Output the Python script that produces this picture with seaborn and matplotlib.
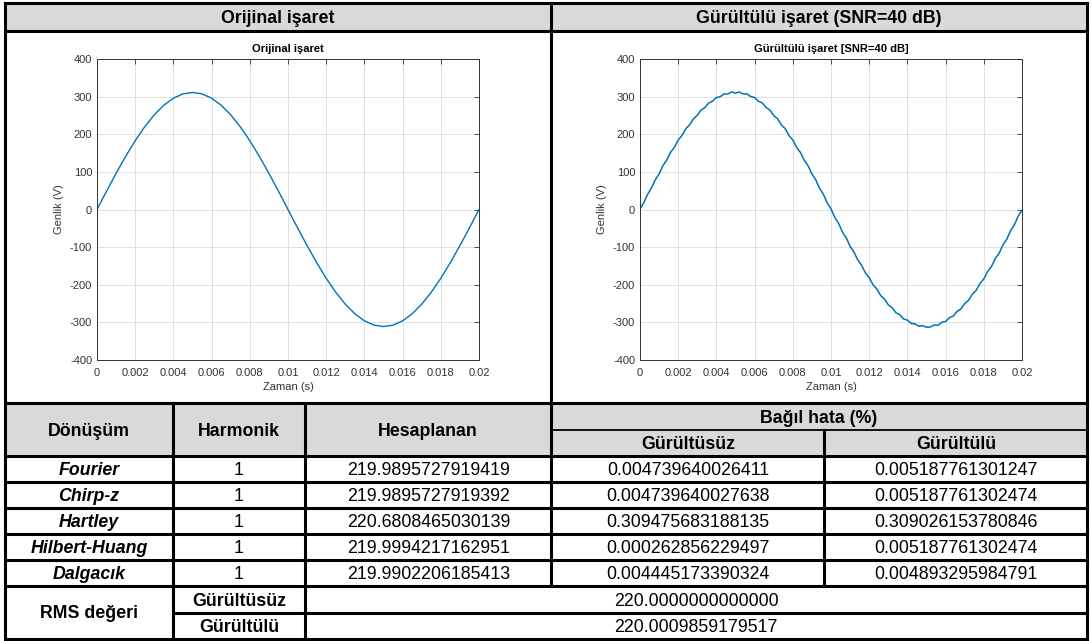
import numpy as np
import matplotlib
matplotlib.use("Agg")
import matplotlib.pyplot as plt
from matplotlib.lines import Line2D
from matplotlib.patches import Rectangle
import seaborn as sns

# ---- signal samples (V) over one 50 Hz period, 0 .. 0.02 s ----
clean_signal = [
    0.0, 48.7, 96.1, 141.2, 182.9, 220.0, 251.7, 277.2, 295.9, 307.3,
    311.1, 307.3, 295.9, 277.2, 251.7, 220.0, 182.9, 141.2, 96.1, 48.7,
    0.0, -48.7, -96.1, -141.2, -182.9, -220.0, -251.7, -277.2, -295.9, -307.3,
    -311.1, -307.3, -295.9, -277.2, -251.7, -220.0, -182.9, -141.2, -96.1, -48.7,
    0.0,
]

noisy_signal = [
    1.2, 18.4, 40.6, 57.1, 79.0, 94.8, 116.3, 131.2, 151.9, 165.1,
    184.5, 196.9, 214.8, 225.3, 241.2, 250.4, 264.5, 271.0, 283.2, 287.9,
    297.6, 299.8, 307.4, 307.0, 312.6, 309.5, 312.3, 307.1, 307.2, 300.1,
    297.9, 287.6, 283.4, 270.9, 264.6, 249.8, 241.5, 225.0, 214.9, 196.4,
    184.8, 164.9, 151.6, 130.7, 116.2, 94.5, 79.1, 56.5, 40.8, 17.7,
    1.6, -21.3, -37.2, -60.0, -75.6, -97.9, -112.8, -134.2, -148.1, -168.5,
    -181.1, -200.1, -211.2, -228.6, -237.9, -253.5, -260.9, -274.4, -279.7, -291.0,
    -294.1, -303.1, -303.8, -310.4, -308.7, -312.9, -312.3, -306.9, -307.4, -299.6,
    -297.7, -287.5, -283.3, -270.8, -264.5, -249.9, -241.5, -225.0, -214.8, -196.5,
    -184.7, -164.9, -151.7, -130.6, -116.3, -94.4, -79.2, -56.5, -40.8, -17.8,
    -1.5,
]

period_end = 0.02
x_tick_values = [0, 0.002, 0.004, 0.006, 0.008, 0.01, 0.012, 0.014, 0.016, 0.018, 0.02]
x_tick_labels = ["0", "0.002", "0.004", "0.006", "0.008", "0.01",
                 "0.012", "0.014", "0.016", "0.018", "0.02"]
y_tick_values = [-400, -300, -200, -100, 0, 100, 200, 300, 400]

# ---- results table ----
methods = ["Fourier", "Chirp-z", "Hartley", "Hilbert-Huang", "Dalgacık"]
harmonics = ["1", "1", "1", "1", "1"]
computed = ["219.9895727919419", "219.9895727919392", "220.6808465030139",
            "219.9994217162951", "219.9902206185413"]
err_clean = ["0.004739640026411", "0.004739640027638", "0.309475683188135",
             "0.000262856229497", "0.004445173390324"]
err_noisy = ["0.005187761301247", "0.005187761302474", "0.309026153780846",
             "0.005187761302474", "0.004893295984791"]
rms_labels = ["Gürültüsüz", "Gürültülü"]
rms_values = ["220.0000000000000", "220.0009859179517"]

panel_titles = ["Orijinal işaret", "Gürültülü işaret (SNR=40 dB)"]
axes_titles = ["Orijinal işaret", "Gürültülü işaret [SNR=40 dB]"]

sns.set_style("white")
plt.rcParams["font.family"] = ["Liberation Sans", "DejaVu Sans"]
plt.rcParams["axes.unicode_minus"] = False

W, H = 1091, 641
fig = plt.figure(figsize=(W / 100, H / 100), dpi=100)

# overlay in pixel coordinates for the table grid
grid_ax = fig.add_axes([0, 0, 1, 1], zorder=0)
grid_ax.set_xlim(0, W)
grid_ax.set_ylim(H, 0)
grid_ax.axis("off")

GRAY = "#d9d9d9"
grid_ax.add_patch(Rectangle((5, 3), 1082, 28, color=GRAY, lw=0))
grid_ax.add_patch(Rectangle((5, 403), 1082, 53, color=GRAY, lw=0))

THICK = 2.2
def hline(y, x0=5, x1=1087, lw=THICK):
    grid_ax.add_line(Line2D([x0, x1], [y, y], color="black", lw=lw,
                            solid_capstyle="projecting"))

def vline(x, y0=3, y1=639, lw=THICK):
    grid_ax.add_line(Line2D([x, x], [y0, y1], color="black", lw=lw,
                            solid_capstyle="projecting"))

row_edges = [456, 482, 508, 534, 560, 586]
for y in [3, 31, 403, 639] + row_edges:
    hline(y)
hline(430, 551, 1087, lw=1.3)
hline(613, 173, 1087)
vline(5)
vline(1087)
vline(551, 3, 586)
vline(173, 403, 639)
vline(305, 403, 639)
vline(824, 430, 586)

FS = 12.8
CAP_HALF = 0.358 * FS * 100 / 72  # half cap height in pixels

def put(x, y, s, weight="normal", style="normal", size=FS):
    # y is the visual middle of the capitals
    grid_ax.text(x, y + CAP_HALF, s, ha="center", va="baseline", fontsize=size,
                 fontweight=weight, fontstyle=style, color="black")

put(278, 17, panel_titles[0], weight="bold")
put(819, 17, panel_titles[1], weight="bold")

put(89, 430, "Dönüşüm", weight="bold")
put(239, 430, "Harmonik", weight="bold")
put(428, 430, "Hesaplanan", weight="bold")
put(819, 417, "Bağıl hata (%)", weight="bold")
put(688, 443, "Gürültüsüz", weight="bold")
put(956, 443, "Gürültülü", weight="bold")

for i, name in enumerate(methods):
    yc = (row_edges[i] + row_edges[i + 1]) / 2
    put(89, yc, name, weight="bold", style="italic")
    put(239, yc, harmonics[i])
    put(429, yc, computed[i])
    put(688, yc, err_clean[i])
    put(956, yc, err_noisy[i])

put(89, 612, "RMS değeri", weight="bold")
put(239, 599.5, rms_labels[0], weight="bold")
put(239, 626, rms_labels[1], weight="bold")
put(696, 599.5, rms_values[0])
put(696, 626, rms_values[1])

# ---- the two signal plots ----
BLUE = "#0072bd"
AX_COL = "#333333"
SMALL = 8.0

def signal_axes(x0, series, title, lw):
    ax = fig.add_axes([x0 / W, 1 - 360 / H, 382 / W, 301 / H], zorder=2)
    t = np.linspace(0, period_end, len(series))
    sns.lineplot(x=t, y=series, ax=ax, color=BLUE, lw=lw)
    ax.set_xlim(0, period_end)
    ax.set_ylim(-400, 400)
    ax.set_xticks(x_tick_values)
    ax.set_xticklabels(x_tick_labels)
    ax.set_yticks(y_tick_values)
    ax.grid(True, color="#e0e0e0", lw=0.7)
    ax.set_axisbelow(True)
    ax.tick_params(direction="in", top=True, right=True, length=3.5,
                   width=0.6, colors=AX_COL, labelsize=SMALL)
    ax.tick_params(axis="x", pad=6)
    ax.tick_params(axis="y", pad=3.5)
    for sp in ax.spines.values():
        sp.set_color(AX_COL)
        sp.set_linewidth(0.7)
        sp.set_visible(True)
    ax.set_title(title, fontsize=SMALL, fontweight="bold", pad=5, color="black")
    ax.set_xlabel("Zaman (s)", fontsize=SMALL, color=AX_COL, labelpad=3)
    ax.set_ylabel("Genlik (V)", fontsize=SMALL, color=AX_COL, labelpad=4)
    return ax

signal_axes(97, clean_signal, axes_titles[0], 1.0)
signal_axes(640, noisy_signal, axes_titles[1], 1.1)

fig.savefig("out.png", dpi=100, facecolor="white")
